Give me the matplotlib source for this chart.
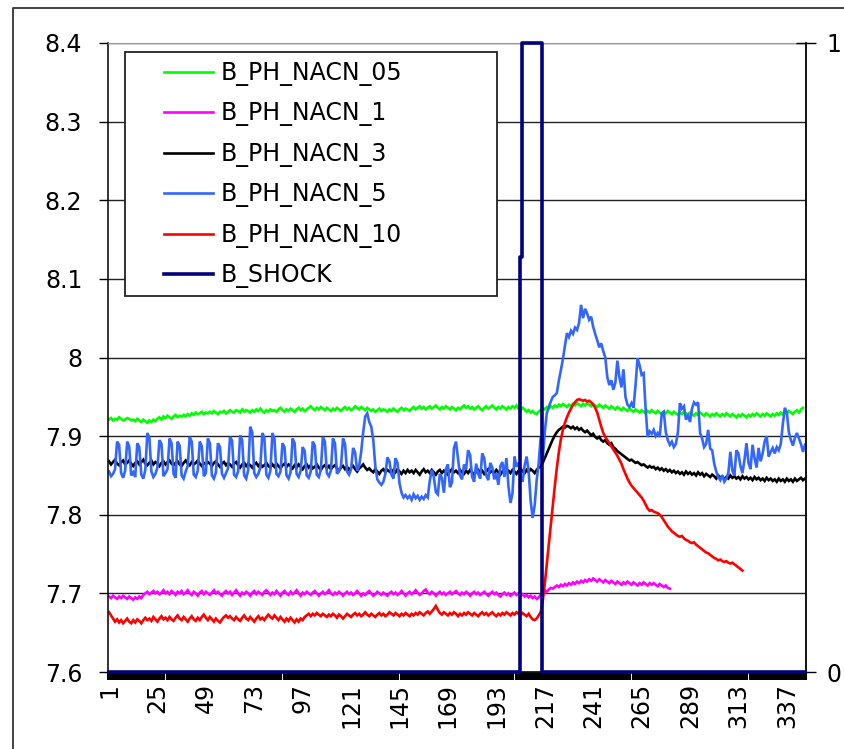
import matplotlib
matplotlib.use("Agg")
import matplotlib.pyplot as plt
import numpy as np
from matplotlib.lines import Line2D
from matplotlib.patches import Rectangle

N_CATEGORIES = 346

y_ticks = [7.6, 7.7, 7.8, 7.9, 8.0, 8.1, 8.2, 8.3, 8.4]
y_tick_labels = ["7.6", "7.7", "7.8", "7.9", "8", "8.1", "8.2", "8.3", "8.4"]
x_tick_labels = ["1", "25", "49", "73", "97", "121", "145", "169", "193",
                 "217", "241", "265", "289", "313", "337"]

ph_nacn_05 = [
    7.921, 7.923, 7.920, 7.922, 7.921, 7.924, 7.922, 7.920, 7.921, 7.923,
    7.922, 7.920, 7.921, 7.919, 7.922, 7.920, 7.918, 7.921, 7.919, 7.917,
    7.920, 7.918, 7.921, 7.919, 7.922, 7.924, 7.921, 7.925, 7.923, 7.926,
    7.924, 7.922, 7.925, 7.927, 7.924, 7.926, 7.925, 7.927, 7.925, 7.928,
    7.926, 7.929, 7.927, 7.930, 7.928, 7.929, 7.931, 7.928, 7.930, 7.929,
    7.931, 7.929, 7.932, 7.930, 7.928, 7.931, 7.930, 7.932, 7.929, 7.931,
    7.933, 7.931, 7.930, 7.933, 7.932, 7.930, 7.934, 7.931, 7.933, 7.932,
    7.930, 7.933, 7.931, 7.934, 7.932, 7.935, 7.932, 7.930, 7.933, 7.931,
    7.934, 7.932, 7.933, 7.931, 7.934, 7.936, 7.933, 7.931, 7.934, 7.932,
    7.935, 7.933, 7.931, 7.934, 7.936, 7.933, 7.935, 7.932, 7.934, 7.936,
    7.938, 7.935, 7.933, 7.936, 7.934, 7.937, 7.935, 7.933, 7.936, 7.934,
    7.932, 7.935, 7.933, 7.936, 7.934, 7.932, 7.935, 7.937, 7.934, 7.936,
    7.933, 7.935, 7.938, 7.936, 7.934, 7.937, 7.935, 7.933, 7.936, 7.934,
    7.932, 7.934, 7.931, 7.933, 7.935, 7.932, 7.934, 7.933, 7.931, 7.934,
    7.932, 7.935, 7.933, 7.931, 7.934, 7.936, 7.933, 7.935, 7.934, 7.932,
    7.935, 7.937, 7.934, 7.936, 7.938, 7.935, 7.937, 7.934, 7.936, 7.938,
    7.935, 7.937, 7.939, 7.936, 7.934, 7.937, 7.935, 7.938, 7.936, 7.934,
    7.937, 7.935, 7.933, 7.936, 7.934, 7.937, 7.939, 7.936, 7.938, 7.935,
    7.937, 7.934, 7.936, 7.938, 7.935, 7.933, 7.936, 7.938, 7.935, 7.937,
    7.939, 7.936, 7.934, 7.937, 7.935, 7.938, 7.936, 7.934, 7.937, 7.935,
    7.938, 7.936, 7.939, 7.935, 7.933, 7.936, 7.934, 7.931, 7.933, 7.930,
    7.932, 7.929, 7.928, 7.931, 7.933, 7.936, 7.934, 7.937, 7.935, 7.938,
    7.936, 7.939, 7.937, 7.940, 7.938, 7.941, 7.939, 7.937, 7.940, 7.938,
    7.941, 7.939, 7.942, 7.940, 7.938, 7.941, 7.939, 7.942, 7.940, 7.938,
    7.941, 7.939, 7.937, 7.940, 7.938, 7.936, 7.939, 7.937, 7.935, 7.938,
    7.936, 7.934, 7.937, 7.935, 7.933, 7.936, 7.934, 7.932, 7.935, 7.933,
    7.931, 7.934, 7.932, 7.930, 7.933, 7.931, 7.929, 7.932, 7.930, 7.933,
    7.931, 7.929, 7.932, 7.930, 7.928, 7.931, 7.929, 7.932, 7.930, 7.928,
    7.931, 7.929, 7.927, 7.930, 7.928, 7.931, 7.929, 7.927, 7.930, 7.928,
    7.926, 7.929, 7.927, 7.930, 7.928, 7.926, 7.929, 7.927, 7.925, 7.928,
    7.926, 7.929, 7.927, 7.925, 7.928, 7.926, 7.929, 7.927, 7.925, 7.928,
    7.926, 7.924, 7.927, 7.925, 7.928, 7.926, 7.924, 7.927, 7.925, 7.928,
    7.926, 7.929, 7.927, 7.925, 7.928, 7.926, 7.929, 7.927, 7.925, 7.928,
    7.926, 7.929, 7.927, 7.930, 7.928, 7.931, 7.929, 7.932, 7.930, 7.928,
    7.931, 7.933, 7.930, 7.934, 7.936,
]

ph_nacn_1 = [
    7.696, 7.694, 7.697, 7.695, 7.693, 7.696, 7.694, 7.697, 7.695, 7.693,
    7.696, 7.694, 7.692, 7.695, 7.693, 7.696, 7.694, 7.698, 7.700, 7.702,
    7.699, 7.701, 7.703, 7.700, 7.702, 7.699, 7.701, 7.704, 7.700, 7.702,
    7.699, 7.703, 7.701, 7.698, 7.702, 7.700, 7.703, 7.699, 7.701, 7.704,
    7.700, 7.698, 7.702, 7.700, 7.697, 7.701, 7.703, 7.699, 7.702, 7.700,
    7.698, 7.701, 7.704, 7.700, 7.702, 7.699, 7.697, 7.701, 7.703, 7.700,
    7.702, 7.698, 7.701, 7.704, 7.700, 7.697, 7.701, 7.699, 7.702, 7.700,
    7.697, 7.701, 7.703, 7.699, 7.702, 7.700, 7.698, 7.702, 7.704, 7.701,
    7.698, 7.701, 7.699, 7.703, 7.700, 7.697, 7.701, 7.703, 7.700, 7.698,
    7.702, 7.699, 7.701, 7.704, 7.700, 7.697, 7.701, 7.699, 7.702, 7.700,
    7.698, 7.701, 7.703, 7.700, 7.697, 7.700, 7.702, 7.699, 7.701, 7.704,
    7.700, 7.698, 7.701, 7.699, 7.702, 7.700, 7.697, 7.700, 7.702, 7.699,
    7.701, 7.698, 7.700, 7.703, 7.700, 7.697, 7.700, 7.698, 7.701, 7.703,
    7.700, 7.697, 7.699, 7.702, 7.700, 7.698, 7.701, 7.699, 7.697, 7.700,
    7.702, 7.699, 7.701, 7.698, 7.700, 7.703, 7.700, 7.697, 7.700, 7.702,
    7.699, 7.701, 7.704, 7.701, 7.698, 7.700, 7.703, 7.705, 7.701, 7.699,
    7.702, 7.700, 7.697, 7.700, 7.702, 7.699, 7.701, 7.698, 7.700, 7.702,
    7.699, 7.701, 7.703, 7.700, 7.698, 7.701, 7.699, 7.702, 7.700, 7.697,
    7.700, 7.702, 7.699, 7.701, 7.698, 7.700, 7.702, 7.699, 7.697, 7.700,
    7.702, 7.699, 7.701, 7.698, 7.696, 7.699, 7.701, 7.698, 7.700, 7.697,
    7.699, 7.701, 7.698, 7.700, 7.697, 7.699, 7.696, 7.698, 7.695, 7.697,
    7.694, 7.696, 7.693, 7.695, 7.698, 7.701, 7.704, 7.702, 7.705, 7.707,
    7.706, 7.708, 7.710, 7.708, 7.711, 7.709, 7.712, 7.710, 7.713, 7.711,
    7.714, 7.712, 7.715, 7.713, 7.716, 7.714, 7.717, 7.715, 7.718, 7.716,
    7.719, 7.717, 7.715, 7.718, 7.716, 7.714, 7.717, 7.715, 7.713, 7.716,
    7.714, 7.712, 7.715, 7.713, 7.711, 7.714, 7.712, 7.715, 7.713, 7.711,
    7.714, 7.712, 7.710, 7.713, 7.711, 7.714, 7.712, 7.710, 7.713, 7.711,
    7.713, 7.711, 7.709, 7.712, 7.710, 7.708, 7.710, 7.707, 7.706,
]

ph_nacn_3 = [
    7.868, 7.864, 7.867, 7.870, 7.865, 7.863, 7.867, 7.869, 7.864, 7.866,
    7.869, 7.865, 7.862, 7.866, 7.868, 7.864, 7.867, 7.870, 7.865, 7.863,
    7.866, 7.869, 7.864, 7.867, 7.865, 7.862, 7.866, 7.868, 7.864, 7.867,
    7.869, 7.865, 7.863, 7.866, 7.868, 7.864, 7.862, 7.866, 7.869, 7.865,
    7.863, 7.867, 7.864, 7.866, 7.869, 7.865, 7.862, 7.866, 7.864, 7.867,
    7.865, 7.862, 7.866, 7.868, 7.864, 7.861, 7.865, 7.867, 7.863, 7.866,
    7.864, 7.861, 7.865, 7.867, 7.863, 7.860, 7.864, 7.866, 7.862, 7.865,
    7.863, 7.860, 7.864, 7.866, 7.862, 7.865, 7.861, 7.863, 7.866, 7.862,
    7.860, 7.864, 7.861, 7.865, 7.862, 7.859, 7.863, 7.865, 7.861, 7.864,
    7.862, 7.859, 7.863, 7.860, 7.864, 7.861, 7.858, 7.862, 7.864, 7.860,
    7.863, 7.859, 7.861, 7.864, 7.860, 7.857, 7.861, 7.863, 7.859, 7.862,
    7.858, 7.861, 7.863, 7.859, 7.856, 7.860, 7.862, 7.858, 7.861, 7.857,
    7.860, 7.862, 7.858, 7.855, 7.859, 7.861, 7.864, 7.860, 7.857, 7.859,
    7.856, 7.854, 7.858, 7.855, 7.852, 7.856, 7.858, 7.854, 7.857, 7.855,
    7.853, 7.857, 7.854, 7.858, 7.855, 7.852, 7.856, 7.853, 7.857, 7.854,
    7.856, 7.853, 7.857, 7.854, 7.851, 7.855, 7.858, 7.854, 7.856, 7.853,
    7.857, 7.854, 7.851, 7.855, 7.857, 7.853, 7.856, 7.854, 7.851, 7.855,
    7.858, 7.854, 7.856, 7.853, 7.857, 7.854, 7.852, 7.856, 7.853, 7.857,
    7.854, 7.851, 7.855, 7.857, 7.853, 7.856, 7.852, 7.855, 7.858, 7.854,
    7.856, 7.853, 7.857, 7.854, 7.851, 7.855, 7.858, 7.854, 7.856, 7.853,
    7.857, 7.855, 7.852, 7.856, 7.859, 7.855, 7.853, 7.857, 7.854, 7.858,
    7.856, 7.853, 7.857, 7.860, 7.862, 7.866, 7.872, 7.878, 7.884, 7.890,
    7.896, 7.901, 7.905, 7.908, 7.910, 7.912, 7.911, 7.913, 7.912, 7.910,
    7.912, 7.909, 7.911, 7.908, 7.910, 7.907, 7.905, 7.907, 7.904, 7.901,
    7.903, 7.899, 7.897, 7.899, 7.895, 7.893, 7.895, 7.891, 7.889, 7.891,
    7.886, 7.884, 7.881, 7.879, 7.877, 7.875, 7.873, 7.871, 7.869, 7.870,
    7.868, 7.866, 7.867, 7.865, 7.863, 7.864, 7.862, 7.860, 7.862, 7.860,
    7.861, 7.858, 7.860, 7.857, 7.859, 7.856, 7.858, 7.855, 7.857, 7.854,
    7.856, 7.853, 7.855, 7.852, 7.854, 7.851, 7.855, 7.852, 7.854, 7.851,
    7.853, 7.850, 7.854, 7.851, 7.853, 7.849, 7.852, 7.850, 7.848, 7.851,
    7.849, 7.846, 7.850, 7.847, 7.849, 7.845, 7.848, 7.846, 7.850, 7.847,
    7.849, 7.846, 7.848, 7.845, 7.849, 7.846, 7.848, 7.845, 7.847, 7.844,
    7.848, 7.845, 7.847, 7.844, 7.846, 7.843, 7.847, 7.844, 7.846, 7.843,
    7.845, 7.842, 7.846, 7.843, 7.845, 7.842, 7.846, 7.843, 7.845, 7.842,
    7.846, 7.843, 7.845, 7.847, 7.844, 7.846,
]

ph_nacn_5 = [
    7.855, 7.849, 7.852, 7.858, 7.893, 7.889, 7.853, 7.847, 7.856, 7.893,
    7.887, 7.850, 7.854, 7.848, 7.891, 7.886, 7.851, 7.846, 7.857, 7.904,
    7.898, 7.855, 7.848, 7.852, 7.860, 7.895, 7.890, 7.849, 7.853, 7.858,
    7.897, 7.891, 7.852, 7.847, 7.893, 7.888, 7.850, 7.846, 7.855, 7.862,
    7.899, 7.893, 7.851, 7.848, 7.856, 7.893, 7.887, 7.849, 7.853, 7.897,
    7.891, 7.850, 7.846, 7.854, 7.891, 7.886, 7.852, 7.847, 7.853, 7.859,
    7.899, 7.894, 7.851, 7.848, 7.855, 7.901, 7.895, 7.850, 7.846, 7.857,
    7.912, 7.905, 7.853, 7.848, 7.852, 7.860, 7.904, 7.898, 7.851, 7.847,
    7.856, 7.904, 7.897, 7.852, 7.849, 7.855, 7.891, 7.886, 7.850, 7.846,
    7.854, 7.897, 7.891, 7.852, 7.848, 7.856, 7.886, 7.881, 7.850, 7.847,
    7.855, 7.893, 7.888, 7.851, 7.848, 7.857, 7.899, 7.893, 7.853, 7.849,
    7.856, 7.897, 7.891, 7.852, 7.856, 7.862, 7.897, 7.890, 7.855, 7.851,
    7.858, 7.885, 7.879, 7.856, 7.862, 7.880, 7.905, 7.925, 7.929, 7.918,
    7.912, 7.895, 7.862, 7.845, 7.841, 7.838, 7.842, 7.852, 7.873, 7.868,
    7.851, 7.846, 7.872, 7.866, 7.840, 7.828, 7.822, 7.825, 7.821, 7.824,
    7.819, 7.826, 7.821, 7.824, 7.819, 7.823, 7.820, 7.825, 7.822, 7.843,
    7.857, 7.848, 7.829, 7.826, 7.852, 7.847, 7.828, 7.858, 7.864, 7.835,
    7.841, 7.885, 7.893, 7.872, 7.850, 7.845, 7.864, 7.858, 7.882, 7.876,
    7.848, 7.842, 7.865, 7.852, 7.846, 7.878, 7.872, 7.850, 7.844, 7.866,
    7.860, 7.845, 7.853, 7.838, 7.862, 7.867, 7.848, 7.872, 7.836, 7.815,
    7.827, 7.874, 7.861, 7.866, 7.850, 7.842, 7.862, 7.874, 7.856, 7.818,
    7.796, 7.812, 7.844, 7.866, 7.899, 7.870, 7.905, 7.929, 7.937, 7.944,
    7.950, 7.952, 7.955, 7.971, 7.984, 7.998, 8.015, 8.031, 8.026, 8.034,
    8.030, 8.038, 8.035, 8.044, 8.067, 8.050, 8.062, 8.056, 8.048, 8.052,
    8.039, 8.030, 8.022, 8.013, 8.018, 8.008, 8.000, 7.975, 7.965, 7.971,
    7.959, 7.968, 7.996, 7.975, 7.962, 7.985, 7.950, 7.940, 7.937, 7.942,
    7.936, 7.965, 7.999, 7.990, 7.978, 7.980, 7.935, 7.899, 7.906, 7.903,
    7.908, 7.900, 7.904, 7.899, 7.929, 7.931, 7.905, 7.895, 7.889, 7.893,
    7.886, 7.890, 7.905, 7.942, 7.935, 7.938, 7.921, 7.926, 7.918, 7.935,
    7.943, 7.940, 7.943, 7.904, 7.897, 7.886, 7.890, 7.908, 7.884, 7.882,
    7.865, 7.855, 7.848, 7.844, 7.850, 7.842, 7.846, 7.853, 7.880, 7.856,
    7.850, 7.882, 7.878, 7.862, 7.853, 7.870, 7.891, 7.866, 7.858, 7.889,
    7.872, 7.860, 7.885, 7.868, 7.878, 7.893, 7.900, 7.874, 7.880, 7.885,
    7.878, 7.886, 7.882, 7.890, 7.915, 7.936, 7.930, 7.905, 7.895, 7.888,
    7.898, 7.904, 7.897, 7.890, 7.880, 7.889,
]

ph_nacn_10 = [
    7.676, 7.672, 7.668, 7.664, 7.667, 7.663, 7.666, 7.662, 7.665, 7.668,
    7.664, 7.662, 7.666, 7.663, 7.667, 7.665, 7.662, 7.666, 7.669, 7.666,
    7.668, 7.665, 7.670, 7.667, 7.664, 7.668, 7.671, 7.667, 7.669, 7.666,
    7.670, 7.667, 7.665, 7.669, 7.672, 7.668, 7.666, 7.670, 7.667, 7.664,
    7.668, 7.671, 7.667, 7.665, 7.669, 7.666, 7.670, 7.673, 7.669, 7.666,
    7.670, 7.667, 7.664, 7.668, 7.665, 7.663, 7.667, 7.670, 7.672, 7.669,
    7.671, 7.668, 7.666, 7.670, 7.667, 7.665, 7.669, 7.672, 7.668, 7.666,
    7.670, 7.667, 7.664, 7.668, 7.671, 7.667, 7.669, 7.666, 7.670, 7.673,
    7.670, 7.668, 7.672, 7.669, 7.666, 7.670, 7.667, 7.664, 7.668, 7.665,
    7.669, 7.666, 7.663, 7.667, 7.664, 7.668, 7.666, 7.670, 7.672, 7.674,
    7.671, 7.674, 7.672, 7.675, 7.673, 7.671, 7.674, 7.672, 7.670, 7.673,
    7.671, 7.674, 7.672, 7.669, 7.673, 7.671, 7.668, 7.671, 7.674, 7.672,
    7.670, 7.673, 7.675, 7.672, 7.674, 7.671, 7.673, 7.676, 7.673, 7.671,
    7.674, 7.672, 7.670, 7.673, 7.675, 7.672, 7.674, 7.671, 7.673, 7.676,
    7.674, 7.672, 7.675, 7.673, 7.671, 7.674, 7.672, 7.675, 7.673, 7.671,
    7.674, 7.672, 7.675, 7.673, 7.676, 7.674, 7.672, 7.675, 7.677, 7.674,
    7.677, 7.680, 7.684, 7.679, 7.675, 7.673, 7.676, 7.674, 7.672, 7.675,
    7.673, 7.676, 7.674, 7.671, 7.674, 7.672, 7.675, 7.673, 7.676, 7.674,
    7.672, 7.675, 7.673, 7.671, 7.674, 7.676, 7.673, 7.675, 7.672, 7.674,
    7.676, 7.673, 7.671, 7.674, 7.672, 7.675, 7.673, 7.676, 7.674, 7.672,
    7.675, 7.673, 7.676, 7.674, 7.672, 7.675, 7.673, 7.671, 7.674, 7.670,
    7.667, 7.666, 7.668, 7.672, 7.676, 7.690, 7.712, 7.737, 7.762, 7.787,
    7.812, 7.837, 7.860, 7.880, 7.896, 7.908, 7.917, 7.924, 7.930, 7.935,
    7.940, 7.943, 7.946, 7.947, 7.946, 7.945, 7.946, 7.944, 7.945, 7.943,
    7.940, 7.936, 7.930, 7.921, 7.912, 7.904, 7.899, 7.895, 7.891, 7.887,
    7.883, 7.879, 7.875, 7.870, 7.865, 7.858, 7.852, 7.846, 7.841, 7.837,
    7.834, 7.831, 7.828, 7.825, 7.822, 7.818, 7.813, 7.808, 7.805, 7.806,
    7.804, 7.803, 7.802, 7.800, 7.797, 7.793, 7.789, 7.785, 7.782, 7.779,
    7.777, 7.775, 7.773, 7.772, 7.773, 7.770, 7.768, 7.767, 7.765, 7.764,
    7.765, 7.762, 7.760, 7.758, 7.756, 7.754, 7.752, 7.751, 7.749, 7.747,
    7.745, 7.744, 7.742, 7.743, 7.741, 7.740, 7.741, 7.739, 7.738, 7.739,
    7.737, 7.735, 7.733, 7.731, 7.729,
]

# shock signal on the right axis, stored as levels and how many points each lasts
shock_levels = [0.0, 0.66, 1.0, 0.0]
shock_run_lengths = [204, 1, 10, 131]

series_names = ["B_PH_NACN_05", "B_PH_NACN_1", "B_PH_NACN_3",
                "B_PH_NACN_5", "B_PH_NACN_10"]
series_colors = ["#00ff00", "#ff00ff", "#000000", "#3366ff", "#ff0000"]
shock_name = "B_SHOCK"
shock_color = "#000080"

FIG_W, FIG_H = 845, 749


def px_x(x):
    return x / FIG_W


def px_y(y):
    return 1 - y / FIG_H


def plot_series(ax, values, color, label):
    x = np.arange(1, len(values) + 1)
    line, = ax.plot(x, values, color=color, lw=1.9, label=label,
                    solid_joinstyle="miter")
    return line


def main():
    plt.rcParams["font.family"] = ["DejaVu Sans"]
    fig = plt.figure(figsize=(FIG_W / 100, FIG_H / 100), dpi=100)
    ax = fig.add_axes([px_x(108), px_y(672), px_x(806) - px_x(108),
                       px_y(43) - px_y(672)])

    all_series = [ph_nacn_05, ph_nacn_1, ph_nacn_3, ph_nacn_5, ph_nacn_10]
    handles = []
    for values, color, name in zip(all_series, series_colors, series_names):
        handles.append(plot_series(ax, values, color, name))

    ax.set_xlim(0.5, N_CATEGORIES + 0.5)
    ax.set_ylim(7.6, 8.4)
    ax.set_yticks(y_ticks)
    ax.set_yticklabels(y_tick_labels)
    ax.yaxis.grid(True, color="#222222", lw=1.0)
    ax.set_axisbelow(True)

    ax.set_xticks([int(t) for t in x_tick_labels])
    ax.set_xticklabels(x_tick_labels, rotation=90)
    ax.set_xticks(np.arange(0.5, N_CATEGORIES + 1), minor=True)
    ax.tick_params(axis="x", which="major", length=0, pad=8, labelsize=17)
    ax.tick_params(axis="x", which="minor", length=6, width=1.5,
                   color="black", direction="out")
    ax.tick_params(axis="y", which="major", length=6.5, width=1,
                   direction="out", pad=12, labelsize=17)
    for side in ["left", "bottom", "right"]:
        ax.spines[side].set_color("#111111")
        ax.spines[side].set_linewidth(1.2)
    ax.spines["top"].set_color("#999999")

    # secondary axis with the shock signal
    ax2 = ax.twinx()
    shock = np.repeat(shock_levels, shock_run_lengths)
    x_shock = np.arange(1, len(shock) + 1)
    shock_line, = ax2.plot(x_shock, shock, color=shock_color, lw=2.6,
                           label=shock_name, clip_on=False,
                           drawstyle="steps-mid")
    handles.append(shock_line)
    ax2.set_ylim(0, 1)
    ax2.set_yticks([0, 1])
    ax2.set_yticklabels(["0", "1"])
    ax2.tick_params(axis="y", direction="inout", length=14, width=1,
                    pad=8, labelsize=17)
    for side in ["left", "top", "bottom"]:
        ax2.spines[side].set_visible(False)
    ax2.spines["right"].set_color("#111111")
    ax2.spines["right"].set_linewidth(1.2)

    # legend box
    box = Rectangle((px_x(125), px_y(296)), px_x(497) - px_x(125),
                    px_y(52) - px_y(296), transform=fig.transFigure,
                    facecolor="white", edgecolor="#222222", lw=1.3, zorder=4)
    fig.add_artist(box)
    fig.legend(handles=handles, labels=[h.get_label() for h in handles],
               loc="upper left", bbox_to_anchor=(px_x(164), px_y(61)),
               bbox_transform=fig.transFigure, frameon=False, borderpad=0,
               borderaxespad=0, handlelength=2.08, handletextpad=0.3,
               labelspacing=0.655, fontsize=17)

    # outer chart border
    fig.add_artist(Line2D([px_x(13), px_x(13), 1.0], [0.0, px_y(8), px_y(8)],
                          transform=fig.transFigure, color="#333333", lw=1.3))

    fig.savefig("out.png", dpi=100)


if __name__ == "__main__":
    main()
